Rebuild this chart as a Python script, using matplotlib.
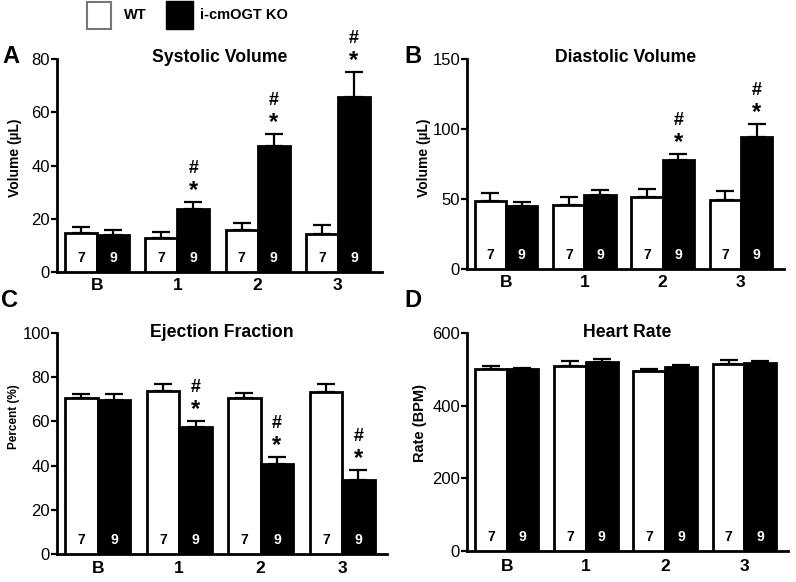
import matplotlib
matplotlib.use("Agg")
import matplotlib.pyplot as plt
from matplotlib.patches import Rectangle
import numpy as np

plt.rcParams['font.family'] = ['Liberation Sans', 'DejaVu Sans']

# ---------------- data ----------------
groups = ['B', '1', '2', '3']
n_wt = 7
n_ko = 9

sys_wt = [14.8, 12.8, 15.8, 14.1]
sys_wt_err = [2.0, 2.2, 2.5, 3.5]
sys_ko = [14.0, 23.5, 47.4, 65.6]
sys_ko_err = [1.8, 2.9, 4.4, 9.6]
sys_sig = [False, True, True, True]

dia_wt = [48.5, 45.6, 51.3, 49.4]
dia_wt_err = [5.5, 5.5, 5.5, 6.2]
dia_ko = [44.7, 52.8, 77.7, 94.4]
dia_ko_err = [3.1, 3.5, 4.5, 9.0]
dia_sig = [False, False, True, True]

ef_wt = [70.5, 73.7, 70.5, 73.3]
ef_wt_err = [2.0, 3.0, 2.3, 3.7]
ef_ko = [69.9, 57.4, 40.8, 33.5]
ef_ko_err = [2.5, 2.7, 2.9, 4.3]
ef_sig = [False, True, True, True]

hr_wt = [501, 510, 496, 516]
hr_wt_err = [8, 14, 5, 9]
hr_ko = [500, 521, 507, 517]
hr_ko_err = [4, 8, 5, 5.5]
hr_sig = [False, False, False, False]

W, H = 796, 582
fig = plt.figure(figsize=(W / 100, H / 100), dpi=100)


def px_rect(left, top, right, bottom):
    return [left / W, 1 - bottom / H, (right - left) / W, (bottom - top) / H]


panels = [
    dict(rect=px_rect(57, 59, 382, 272), letter='A', lpos=(2, 63), title='Systolic Volume',
         ylabel='Volume (\u00b5L)', ylsize=10, ylx=-0.108, yly=158, ymax=80, yticks=[0, 20, 40, 60, 80],
         wt=sys_wt, wte=sys_wt_err, ko=sys_ko, koe=sys_ko_err, sig=sys_sig, xpad=4, tbase=62),
    dict(rect=px_rect(467, 59, 784, 269), letter='B', lpos=(404, 63), title='Diastolic Volume',
         ylabel='Volume (\u00b5L)', ylsize=10, ylx=-0.114, yly=158, ymax=150, yticks=[0, 50, 100, 150],
         wt=dia_wt, wte=dia_wt_err, ko=dia_ko, koe=dia_ko_err, sig=dia_sig, xpad=4, tbase=62),
    dict(rect=px_rect(57, 333, 387, 554), letter='C', lpos=(1, 307), title='Ejection Fraction',
         ylabel='Percent (%)', ylsize=8.5, ylx=-0.112, yly=417, ymax=100, yticks=[0, 20, 40, 60, 80, 100],
         wt=ef_wt, wte=ef_wt_err, ko=ef_ko, koe=ef_ko_err, sig=ef_sig, xpad=5, tbase=337),
    dict(rect=px_rect(467, 333, 788, 551), letter='D', lpos=(404, 307), title='Heart Rate',
         ylabel='Rate (BPM)', ylsize=10.5, ylx=-0.125, yly=423, ymax=600, yticks=[0, 200, 400, 600],
         wt=hr_wt, wte=hr_wt_err, ko=hr_ko, koe=hr_ko_err, sig=hr_sig, xpad=6, tbase=337),
]

bw = 0.4
x = np.arange(len(groups))

for p in panels:
    ax = fig.add_axes(p['rect'])
    xw = x - bw / 2
    xk = x + bw / 2
    ax.bar(xw, p['wt'], width=bw, color='white', edgecolor='black', linewidth=2.0, zorder=3)
    ax.bar(xk, p['ko'], width=bw, color='black', edgecolor='black', linewidth=2.0, zorder=3)
    ax.errorbar(xw, p['wt'], yerr=[np.zeros(4), p['wte']], fmt='none', ecolor='black',
                elinewidth=1.6, capsize=6.5, capthick=1.6, zorder=2)
    ax.errorbar(xk, p['ko'], yerr=[np.zeros(4), p['koe']], fmt='none', ecolor='black',
                elinewidth=1.6, capsize=6.5, capthick=1.6, zorder=2)
    for i in range(len(groups)):
        ax.annotate(str(n_wt), xy=(xw[i], 0), xytext=(0, 14), textcoords='offset pixels',
                    ha='center', va='center', fontsize=10, fontweight='bold', color='black', zorder=5)
        ax.annotate(str(n_ko), xy=(xk[i], 0), xytext=(0, 14), textcoords='offset pixels',
                    ha='center', va='center', fontsize=10, fontweight='bold', color='white', zorder=5)
        if p['sig'][i]:
            top = p['ko'][i] + p['koe'][i]
            ax.annotate('*', xy=(xk[i], top), xytext=(0, 5), textcoords='offset pixels',
                        ha='center', va='baseline', fontsize=17, fontweight='bold', zorder=5,
                        annotation_clip=False)
            ax.annotate('#', xy=(xk[i], top), xytext=(0, 29), textcoords='offset pixels',
                        ha='center', va='baseline', fontsize=13, fontweight='bold', zorder=5,
                        annotation_clip=False)
    ax.set_xlim(-0.5, 3.55)
    ax.set_ylim(0, p['ymax'])
    ax.set_yticks(p['yticks'])
    ax.set_xticks(x)
    ax.set_xticklabels(groups, fontsize=12.5, fontweight='bold')
    ax.tick_params(axis='x', length=0, pad=p['xpad'])
    ax.tick_params(axis='y', length=4, width=1.6, pad=1, labelsize=12)
    for s in ['top', 'right']:
        ax.spines[s].set_visible(False)
    for s in ['left', 'bottom']:
        ax.spines[s].set_linewidth(2.0)
    ax.set_ylabel(p['ylabel'], fontsize=p['ylsize'], fontweight='bold')
    axtop = H - (p['rect'][1] + p['rect'][3]) * H
    axh = p['rect'][3] * H
    ax.yaxis.set_label_coords(p['ylx'], 1 - (p['yly'] - axtop) / axh)
    # title
    ax.text(0.5, 1 - (p['tbase'] - axtop) / axh, p['title'],
            transform=ax.transAxes, ha='center', va='baseline', fontsize=12.7, fontweight='bold')
    fig.text(p['lpos'][0] / W, 1 - p['lpos'][1] / H, p['letter'], ha='left', va='baseline',
             fontsize=17, fontweight='bold')

# legend
fig.patches.append(Rectangle((87 / W, 1 - 29 / H), 24 / W, 27 / H, transform=fig.transFigure,
                             facecolor='white', edgecolor='#777777', linewidth=1.5))
fig.patches.append(Rectangle((166 / W, 1 - 29 / H), 27 / W, 28 / H, transform=fig.transFigure,
                             facecolor='black', edgecolor='black', linewidth=1.0))
fig.text(124 / W, 1 - 15 / H, 'WT', ha='left', va='center', fontsize=10.5, fontweight='bold')
fig.text(200 / W, 1 - 15 / H, 'i-cmOGT KO', ha='left', va='center', fontsize=10.5, fontweight='bold')

fig.savefig('out.png', dpi=100)
